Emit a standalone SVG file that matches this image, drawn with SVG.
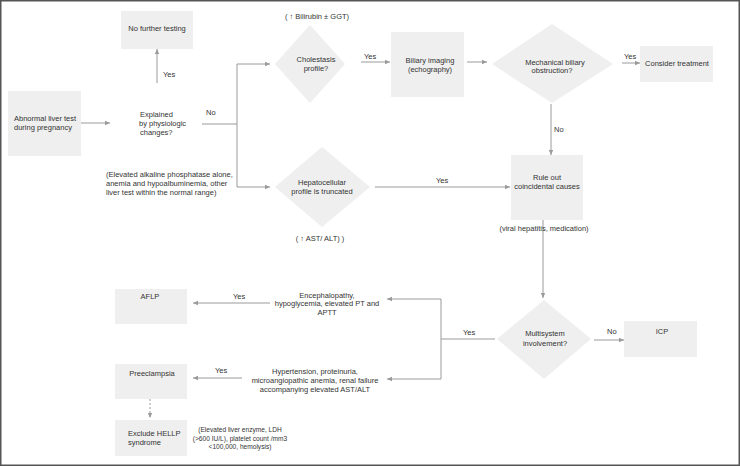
<svg xmlns="http://www.w3.org/2000/svg" width="740" height="466" viewBox="0 0 740 466">
<defs>
<marker id="ah" markerUnits="userSpaceOnUse" markerWidth="6" markerHeight="6" viewBox="0 0 6 6" refX="5" refY="3" orient="auto">
<path d="M0,0.8 L5,3 L0,5.2 Z" fill="#9a9a9a"/>
</marker>
<style>
.box{fill:#efefef}
.dia{fill:#efefef}
.c{fill:none;stroke:#9a9a9a;stroke-width:1}
.a{fill:none;stroke:#9a9a9a;stroke-width:1;marker-end:url(#ah)}
text{font-family:"Liberation Sans",Arial,sans-serif;font-size:7.5px;fill:#333}
.m{text-anchor:middle}
.s{font-size:6.6px}
</style>
</defs>
<rect x="0.75" y="0.75" width="738.5" height="464.5" fill="#fff" stroke="#555" stroke-width="1.5"/>

<g id="connectors">
<path class="a" d="M81,123 H110"/>
<path class="a" d="M157,83 V49"/>
<path class="c" d="M202,124 H237 M237,64 V187"/>
<path class="a" d="M237,64 H270"/>
<path class="a" d="M237,187 H270"/>
<path class="a" d="M361,62 H390"/>
<path class="a" d="M467,62 H487"/>
<path class="a" d="M622,63 H640"/>
<path class="a" d="M551,104 V155"/>
<path class="a" d="M375,187 H510"/>
<path class="a" d="M543,220 V298"/>
<path class="c" d="M495,339 H441 M441,299 V379"/>
<path class="a" d="M441,299 H387"/>
<path class="a" d="M441,379 H387"/>
<path class="a" d="M270,303 H193"/>
<path class="a" d="M242,378 H193"/>
<path class="a" d="M594,340 H624"/>
<path class="a" d="M150,399 V418" stroke-dasharray="2,2"/>
<text x="163" y="77">Yes</text>
<text x="206" y="115">No</text>
<text x="364" y="59">Yes</text>
<text x="624" y="59">Yes</text>
<text x="554" y="132">No</text>
<text x="436" y="183">Yes</text>
<text x="233" y="299">Yes</text>
<text x="215" y="373">Yes</text>
<text x="463" y="335">Yes</text>
<text x="607" y="334">No</text>
</g>

<g id="no-further-testing">
<rect class="box" x="121" y="11" width="72" height="38"/>
<text class="m" x="157" y="30.7">No further testing</text>
</g>

<g id="abnormal-liver-test">
<rect class="box" x="8" y="91" width="73" height="65"/>
<text x="14" y="121">Abnormal liver test</text>
<text x="14" y="130">during pregnancy</text>
</g>

<g id="explained">
<text x="140" y="117">Explained</text>
<text x="139" y="126">by physiologic</text>
<text x="140" y="135">changes?</text>
<text x="106" y="177">(Elevated alkaline phosphatase alone,</text>
<text x="106" y="186">anemia and hypoalbuminemia, other</text>
<text x="106" y="195">liver test within the normal range)</text>
</g>

<g id="cholestasis">
<polygon class="dia" points="310,25 345,64 310,103 275,64"/>
<text class="m" x="317" y="19">( ↑ Bilirubin ± GGT)</text>
<text class="m" x="316" y="62">Cholestasis</text>
<text class="m" x="316" y="71">profile?</text>
</g>

<g id="biliary-imaging">
<rect class="box" x="391" y="32" width="73" height="65"/>
<text class="m" x="430" y="62.5">Biliary imaging</text>
<text class="m" x="430" y="71.5">(echography)</text>
</g>

<g id="mechanical">
<polygon class="dia" points="552,24 613,64 552,103 492,64"/>
<text class="m" x="555" y="64.5">Mechanical biliary</text>
<text class="m" x="552" y="73">obstruction?</text>
</g>

<g id="consider-treatment">
<rect class="box" x="640" y="46" width="73" height="36"/>
<text class="m" x="677" y="66">Consider treatment</text>
</g>

<g id="hepatocellular">
<polygon class="dia" points="322,147 370,187 322,227 275,187"/>
<text class="m" x="322" y="185">Hepatocellular</text>
<text class="m" x="322" y="194">profile is truncated</text>
<text class="m" x="320" y="241">( ↑ AST/ ALT) )</text>
</g>

<g id="rule-out">
<rect class="box" x="511" y="155" width="72" height="65"/>
<text class="m" x="547" y="180">Rule out</text>
<text class="m" x="547" y="189">coincidental causes</text>
<text class="m" x="544" y="231">(viral hepatitis, medication)</text>
</g>

<g id="multisystem">
<polygon class="dia" points="544,300 591,339 544,379 497,339"/>
<text class="m" x="545" y="336">Multisystem</text>
<text class="m" x="545" y="345.5">involvement?</text>
</g>

<g id="icp">
<rect class="box" x="624" y="321" width="73" height="36"/>
<text class="m" x="662" y="334">ICP</text>
</g>

<g id="encephalopathy">
<text class="m" x="327" y="297.5">Encephalopathy,</text>
<text class="m" x="327" y="306">hypoglycemia, elevated PT and</text>
<text class="m" x="327" y="314.5">APTT</text>
</g>

<g id="aflp">
<rect class="box" x="115" y="289" width="72" height="35"/>
<text class="m" x="150" y="299">AFLP</text>
</g>

<g id="hypertension">
<text class="m" x="315" y="374">Hypertension, proteinuria,</text>
<text class="m" x="315" y="383">microangiopathic anemia, renal failure</text>
<text class="m" x="315" y="392">accompanying elevated AST/ALT</text>
</g>

<g id="preeclampsia">
<rect class="box" x="115" y="364" width="72" height="35"/>
<text class="m" x="152" y="376">Preeclampsia</text>
</g>

<g id="exclude-hellp">
<rect class="box" x="115" y="420" width="72" height="36"/>
<text x="128" y="436">Exclude HELLP</text>
<text x="128" y="445">syndrome</text>
<text class="m s" x="240" y="432">(Elevated liver enzyme, LDH</text>
<text class="m s" x="240" y="440.5">(&gt;600 IU/L), platelet count /mm3</text>
<text class="m s" x="240" y="449">&lt;100,000, hemolysis)</text>
</g>
</svg>
